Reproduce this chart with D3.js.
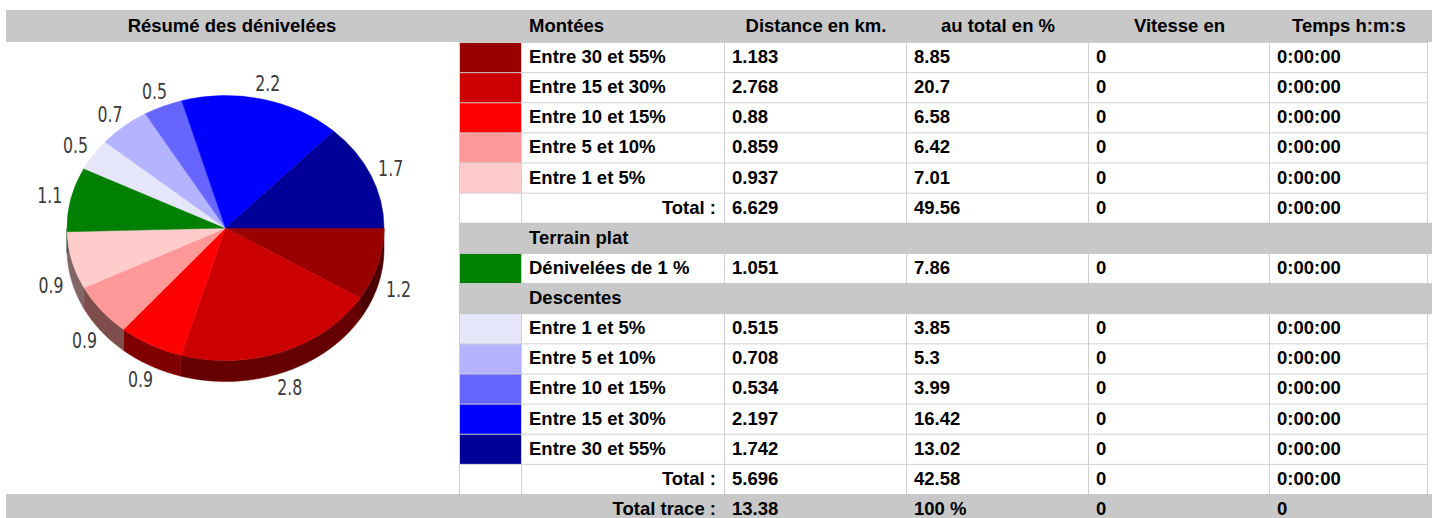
<!DOCTYPE html>
<html>
<head>
<meta charset="utf-8">
<script src="https://cdn.jsdelivr.net/npm/d3@7"></script>
<style>
  body { margin: 0; background: #fff; }
  .tbl text { font-family: "Liberation Sans", Arial, sans-serif; font-weight: bold; font-size: 18.5px; fill: #000; }
  .plab { font-family: "DejaVu Sans", sans-serif; font-size: 21px; fill: #3a3a3a; }
</style>
</head>
<body>
<svg id="chart" width="1432" height="518"></svg>
<script>
// --- data ---
const headers = ["Résumé des dénivelées", "Montées", "Distance en km.", "au total en %", "Vitesse en", "Temps h:m:s"];

const montLabels = ["Entre 30 et 55%", "Entre 15 et 30%", "Entre 10 et 15%", "Entre 5 et 10%", "Entre 1 et 5%"];
const montDist   = [1.183, 2.768, 0.88, 0.859, 0.937];
const montPct    = ["8.85", "20.7", "6.58", "6.42", "7.01"];
const montColors = ["#990000", "#cc0000", "#ff0000", "#ff9999", "#ffcccc"];
const montTotal  = ["6.629", "49.56"];

const platLabel = "Dénivelées de 1 %";
const platDist  = 1.051;
const platPct   = "7.86";
const platColor = "#008000";

const descLabels = ["Entre 1 et 5%", "Entre 5 et 10%", "Entre 10 et 15%", "Entre 15 et 30%", "Entre 30 et 55%"];
const descDist   = [0.515, 0.708, 0.534, 2.197, 1.742];
const descPct    = ["3.85", "5.3", "3.99", "16.42", "13.02"];
const descColors = ["#e6e6fa", "#b3b3ff", "#6666ff", "#0000ff", "#000099"];
const descTotal  = ["5.696", "42.58"];

const traceTotal = ["Total trace :", "13.38", "100 %", "0", "0"];
const speed = "0";
const time = "0:00:00";

const svg = d3.select("#chart");
const W = 1432;

// column edges of the table (right part)
const colEdges = [459, 521, 724, 906, 1088, 1269, 1427];
const grey = "#c8c8c8", line = "#d0d0d0";

// header band
const tbl = svg.append("g").attr("class", "tbl");
tbl.append("rect").attr("x", 6).attr("y", 10).attr("width", W - 6).attr("height", 32).attr("fill", grey);
tbl.append("text").attr("x", 232).attr("y", 31.5).attr("text-anchor", "middle").text(headers[0]);
tbl.append("text").attr("x", colEdges[2] - 0).attr("y", 31.5).attr("text-anchor", "start")
  .attr("x", 529).text(headers[1]);
headers.slice(2).forEach((h, i) => {
  const j = i + 2;
  tbl.append("text").attr("x", (colEdges[j] + colEdges[j + 1]) / 2 + 1).attr("y", 31.5)
    .attr("text-anchor", "middle").text(h);
});

// build rows
const rows = [];
montLabels.forEach((l, i) => rows.push({ kind: "item", color: montColors[i], label: l, dist: d3.format(".4~f")(montDist[i]), pct: montPct[i] }));
rows.push({ kind: "total", label: "Total :", dist: montTotal[0], pct: montTotal[1] });
rows.push({ kind: "section", label: "Terrain plat" });
rows.push({ kind: "item", color: platColor, label: platLabel, dist: d3.format(".4~f")(platDist), pct: platPct });
rows.push({ kind: "section", label: "Descentes" });
descLabels.forEach((l, i) => rows.push({ kind: "item", color: descColors[i], label: l, dist: d3.format(".4~f")(descDist[i]), pct: descPct[i] }));
rows.push({ kind: "total", label: "Total :", dist: descTotal[0], pct: descTotal[1] });

const y = d3.scaleBand().domain(d3.range(rows.length)).range([42, 494]);
const bw = y.bandwidth();

// grid background + pie cell
tbl.append("rect").attr("x", colEdges[0]).attr("y", 42).attr("width", colEdges[6] - colEdges[0] + 1).attr("height", 452).attr("fill", line);
tbl.append("rect").attr("x", 6).attr("y", 42).attr("width", colEdges[0] - 6).attr("height", 452).attr("fill", "#fff");

rows.forEach((r, i) => {
  const top = y(i);
  const g = tbl.append("g");
  if (r.kind === "section") {
    g.append("rect").attr("x", colEdges[0]).attr("y", top).attr("width", W - colEdges[0]).attr("height", bw + 1).attr("fill", grey);
    g.append("text").attr("x", 529).attr("y", top + 21).text(r.label);
    return;
  }
  for (let j = 0; j < 6; j++) {
    g.append("rect").attr("x", colEdges[j] + 1).attr("y", top + 1)
      .attr("width", colEdges[j + 1] - colEdges[j] - 1).attr("height", bw - 1)
      .attr("fill", j === 0 && r.kind === "item" ? r.color : "#fff");
  }
  if (r.kind === "item") g.append("text").attr("x", 529).attr("y", top + 21).text(r.label);
  else g.append("text").attr("x", 716).attr("y", top + 21).attr("text-anchor", "end").text(r.label);
  g.append("text").attr("x", 732).attr("y", top + 21).text(r.dist);
  g.append("text").attr("x", 914).attr("y", top + 21).text(r.pct);
  g.append("text").attr("x", 1096).attr("y", top + 21).text(speed);
  g.append("text").attr("x", 1277).attr("y", top + 21).text(time);
});

// total trace band
tbl.append("rect").attr("x", 6).attr("y", 494).attr("width", W - 6).attr("height", 30).attr("fill", grey);
tbl.append("text").attr("x", 716).attr("y", 515).attr("text-anchor", "end").text(traceTotal[0]);
[732, 914, 1096, 1277].forEach((x, k) => tbl.append("text").attr("x", x).attr("y", 515).text(traceTotal[k + 1]));

// --- 3D pie ---
const pieNames = montLabels.concat([platLabel], descLabels);
const pieValues = montDist.concat([platDist], descDist);
const pieColors = montColors.concat([platColor], descColors);
const pieData = pieValues.map((v, i) => ({ name: pieNames[i], value: v, color: pieColors[i] }));

const cx = 225.5, cy = 228, rx = 158.5, ry = 132.5, depth = 21;
const arcs = d3.pie().sort(null).value(d => d.value)
  .startAngle(Math.PI / 2).endAngle(Math.PI / 2 + 2 * Math.PI)(pieData);
const ang = a => a - Math.PI / 2;          // 0 = 3 o'clock, clockwise on screen
const pt = (t, dy = 0) => [cx + rx * Math.cos(t), cy + ry * Math.sin(t) + dy];

const pieG = svg.append("g");
const lineGen = d3.line();

// side walls (only visible on the lower half)
arcs.forEach(d => {
  const a0 = Math.max(ang(d.startAngle), 0), a1 = Math.min(ang(d.endAngle), Math.PI);
  if (a1 <= a0) return;
  const ts = d3.range(0, 41).map(k => a0 + (a1 - a0) * k / 40);
  const pts = ts.map(t => pt(t)).concat(ts.slice().reverse().map(t => pt(t, depth)));
  const c = d3.rgb(d.data.color);
  pieG.append("path").attr("d", lineGen(pts) + "Z")
    .attr("fill", d3.rgb(c.r * 0.5, c.g * 0.5, c.b * 0.5))
    .attr("stroke", d3.rgb(c.r * 0.5, c.g * 0.5, c.b * 0.5)).attr("stroke-width", 0.5);
});

// top faces
arcs.forEach(d => {
  const t0 = ang(d.startAngle), t1 = ang(d.endAngle);
  const p0 = pt(t0), p1 = pt(t1);
  const large = t1 - t0 > Math.PI ? 1 : 0;
  pieG.append("path")
    .attr("d", `M${cx},${cy}L${p0}A${rx},${ry} 0 ${large} 1 ${p1}Z`)
    .attr("fill", d.data.color).attr("stroke", d.data.color).attr("stroke-width", 0.5);
});

// value labels
const lrx = 180, lry = 148;
arcs.forEach(d => {
  const t = (ang(d.startAngle) + ang(d.endAngle)) / 2;
  const lx = cx + lrx * Math.cos(t);
  const ly = cy + lry * Math.sin(t) + (Math.sin(t) > 0 ? depth : 0);
  pieG.append("text").attr("class", "plab")
    .attr("transform", `translate(${lx},${ly}) scale(0.75,1)`)
    .attr("text-anchor", "middle").attr("dominant-baseline", "central")
    .text(d3.format(".1f")(d.data.value));
});
</script>
</body>
</html>
